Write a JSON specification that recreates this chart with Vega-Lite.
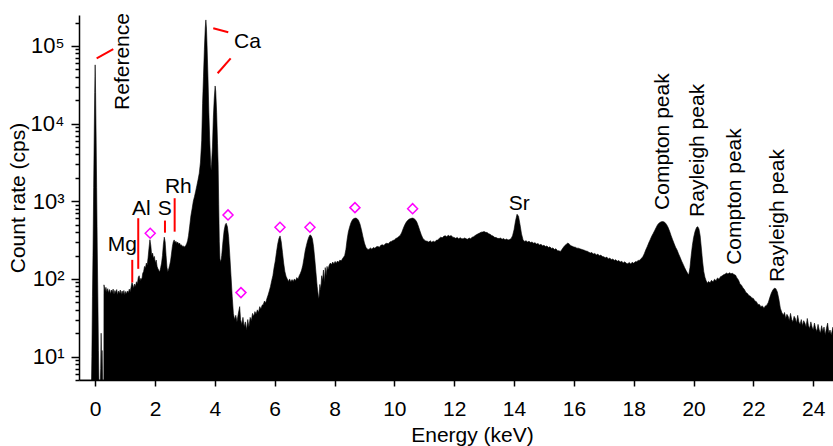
{
  "$schema": "https://vega.github.io/schema/vega-lite/v6.json",
  "width": 754,
  "height": 365,
  "autosize": {"type": "none"},
  "padding": {"left": 79, "top": 15, "right": 0, "bottom": 66},
  "background": "white",
  "config": {"font": "Liberation Sans", "view": {"stroke": null}},
  "datasets": {
    "spectrum": [
      {"e": -0.54, "c": 1}, {"e": -0.15, "c": 1}, {"e": -0.13, "c": 3}, {"e": -0.11, "c": 10}, {"e": -0.09, "c": 60}, {"e": -0.07, "c": 250}, {"e": -0.05, "c": 1500}, {"e": -0.03, "c": 8000}, {"e": -0.015, "c": 25000}, {"e": 0, "c": 57000}, {"e": 0.015, "c": 25000}, {"e": 0.03, "c": 8000}, {"e": 0.05, "c": 1500}, {"e": 0.07, "c": 250}, {"e": 0.09, "c": 60}, {"e": 0.11, "c": 12}, {"e": 0.13, "c": 4}, {"e": 0.16, "c": 3}, {"e": 0.185, "c": 7}, {"e": 0.2, "c": 20}, {"e": 0.215, "c": 7}, {"e": 0.23, "c": 12}, {"e": 0.25, "c": 5}, {"e": 0.27, "c": 3}, {"e": 0.29, "c": 3},
      {"e": 0.295, "c": 84}, {"e": 0.33, "c": 70}, {"e": 0.36, "c": 78}, {"e": 0.39, "c": 68}, {"e": 0.42, "c": 75}, {"e": 0.45, "c": 66}, {"e": 0.48, "c": 73}, {"e": 0.51, "c": 64}, {"e": 0.54, "c": 72}, {"e": 0.57, "c": 67}, {"e": 0.6, "c": 74}, {"e": 0.63, "c": 63}, {"e": 0.66, "c": 71}, {"e": 0.69, "c": 66}, {"e": 0.72, "c": 73}, {"e": 0.75, "c": 62}, {"e": 0.78, "c": 70}, {"e": 0.81, "c": 65}, {"e": 0.84, "c": 72}, {"e": 0.87, "c": 63}, {"e": 0.9, "c": 70}, {"e": 0.93, "c": 64}, {"e": 0.96, "c": 71}, {"e": 0.99, "c": 62}, {"e": 1.02, "c": 69}, {"e": 1.05, "c": 64}, {"e": 1.08, "c": 70}, {"e": 1.11, "c": 66}, {"e": 1.14, "c": 74}, {"e": 1.17, "c": 68}, {"e": 1.2, "c": 78}, {"e": 1.23, "c": 90}, {"e": 1.26, "c": 84}, {"e": 1.29, "c": 76}, {"e": 1.32, "c": 86}, {"e": 1.35, "c": 80}, {"e": 1.38, "c": 92}, {"e": 1.41, "c": 86}, {"e": 1.44, "c": 104}, {"e": 1.47, "c": 110}, {"e": 1.5, "c": 95}, {"e": 1.53, "c": 102}, {"e": 1.56, "c": 98}, {"e": 1.59, "c": 118}, {"e": 1.62, "c": 125}, {"e": 1.65, "c": 145}, {"e": 1.68, "c": 138}, {"e": 1.71, "c": 160}, {"e": 1.74, "c": 150}, {"e": 1.77, "c": 190}, {"e": 1.8, "c": 250}, {"e": 1.83, "c": 320}, {"e": 1.86, "c": 270}, {"e": 1.89, "c": 200}, {"e": 1.92, "c": 215}, {"e": 1.95, "c": 185}, {"e": 1.98, "c": 195}, {"e": 2.01, "c": 160}, {"e": 2.04, "c": 175}, {"e": 2.07, "c": 145}, {"e": 2.1, "c": 135}, {"e": 2.13, "c": 128}, {"e": 2.16, "c": 124}, {"e": 2.19, "c": 140}, {"e": 2.22, "c": 160}, {"e": 2.25, "c": 200}, {"e": 2.28, "c": 280}, {"e": 2.31, "c": 345}, {"e": 2.34, "c": 300}, {"e": 2.37, "c": 200}, {"e": 2.4, "c": 140}, {"e": 2.43, "c": 124}, {"e": 2.46, "c": 135}, {"e": 2.49, "c": 150}, {"e": 2.52, "c": 170}, {"e": 2.55, "c": 210}, {"e": 2.58, "c": 260}, {"e": 2.61, "c": 300}, {"e": 2.64, "c": 318}, {"e": 2.67, "c": 295}, {"e": 2.7, "c": 305}, {"e": 2.73, "c": 285}, {"e": 2.76, "c": 298}, {"e": 2.79, "c": 280}, {"e": 2.82, "c": 290}, {"e": 2.85, "c": 272}, {"e": 2.88, "c": 275}, {"e": 2.91, "c": 262}, {"e": 2.94, "c": 268}, {"e": 2.97, "c": 256}, {"e": 3.0, "c": 262}, {"e": 3.03, "c": 270}, {"e": 3.06, "c": 285}, {"e": 3.09, "c": 310}, {"e": 3.12, "c": 360}, {"e": 3.16, "c": 480}, {"e": 3.2, "c": 650}, {"e": 3.24, "c": 800}, {"e": 3.28, "c": 1000}, {"e": 3.32, "c": 1150}, {"e": 3.36, "c": 1350}, {"e": 3.4, "c": 1600}, {"e": 3.44, "c": 1900}, {"e": 3.48, "c": 2300}, {"e": 3.52, "c": 3200}, {"e": 3.56, "c": 6000}, {"e": 3.59, "c": 18000}, {"e": 3.62, "c": 40000}, {"e": 3.65, "c": 90000}, {"e": 3.68, "c": 170000}, {"e": 3.7, "c": 216000}, {"e": 3.72, "c": 170000}, {"e": 3.74, "c": 100000}, {"e": 3.77, "c": 40000}, {"e": 3.8, "c": 14000}, {"e": 3.83, "c": 6000}, {"e": 3.86, "c": 3000}, {"e": 3.875, "c": 2500}, {"e": 3.89, "c": 3000}, {"e": 3.92, "c": 5000}, {"e": 3.95, "c": 12000}, {"e": 3.98, "c": 21000}, {"e": 4.01, "c": 30500}, {"e": 4.03, "c": 26000}, {"e": 4.06, "c": 14000}, {"e": 4.09, "c": 5500}, {"e": 4.11, "c": 3000}, {"e": 4.13, "c": 900}, {"e": 4.15, "c": 300}, {"e": 4.17, "c": 180}, {"e": 4.2, "c": 165}, {"e": 4.23, "c": 200}, {"e": 4.27, "c": 300}, {"e": 4.31, "c": 420}, {"e": 4.35, "c": 500}, {"e": 4.38, "c": 521}, {"e": 4.42, "c": 470}, {"e": 4.46, "c": 350}, {"e": 4.5, "c": 200}, {"e": 4.54, "c": 110}, {"e": 4.58, "c": 60}, {"e": 4.62, "c": 36}, {"e": 4.66, "c": 30}, {"e": 4.7, "c": 34}, {"e": 4.74, "c": 28}, {"e": 4.78, "c": 35}, {"e": 4.83, "c": 44}, {"e": 4.86, "c": 30}, {"e": 4.9, "c": 26}, {"e": 4.94, "c": 32}, {"e": 4.98, "c": 24}, {"e": 5.02, "c": 28}, {"e": 5.06, "c": 22}, {"e": 5.1, "c": 30}, {"e": 5.14, "c": 24}, {"e": 5.18, "c": 32}, {"e": 5.22, "c": 29}, {"e": 5.26, "c": 36}, {"e": 5.3, "c": 33}, {"e": 5.34, "c": 38}, {"e": 5.38, "c": 35}, {"e": 5.42, "c": 40}, {"e": 5.46, "c": 37}, {"e": 5.5, "c": 44}, {"e": 5.54, "c": 41}, {"e": 5.58, "c": 46}, {"e": 5.62, "c": 47}, {"e": 5.66, "c": 52}, {"e": 5.7, "c": 49}, {"e": 5.74, "c": 56}, {"e": 5.78, "c": 62}, {"e": 5.82, "c": 70}, {"e": 5.86, "c": 80}, {"e": 5.9, "c": 95}, {"e": 5.94, "c": 110}, {"e": 5.98, "c": 140}, {"e": 6.02, "c": 170}, {"e": 6.06, "c": 220}, {"e": 6.1, "c": 280}, {"e": 6.14, "c": 330}, {"e": 6.18, "c": 358}, {"e": 6.22, "c": 300}, {"e": 6.26, "c": 220}, {"e": 6.3, "c": 160}, {"e": 6.34, "c": 125}, {"e": 6.38, "c": 108}, {"e": 6.42, "c": 100}, {"e": 6.46, "c": 93}, {"e": 6.5, "c": 100}, {"e": 6.54, "c": 91}, {"e": 6.58, "c": 98}, {"e": 6.62, "c": 93}, {"e": 6.66, "c": 100}, {"e": 6.7, "c": 95}, {"e": 6.74, "c": 104}, {"e": 6.78, "c": 99}, {"e": 6.82, "c": 110}, {"e": 6.86, "c": 118}, {"e": 6.9, "c": 130}, {"e": 6.94, "c": 150}, {"e": 6.98, "c": 185}, {"e": 7.02, "c": 230}, {"e": 7.06, "c": 270}, {"e": 7.1, "c": 310}, {"e": 7.14, "c": 345}, {"e": 7.18, "c": 369}, {"e": 7.22, "c": 360}, {"e": 7.26, "c": 330}, {"e": 7.3, "c": 260}, {"e": 7.34, "c": 180}, {"e": 7.38, "c": 120}, {"e": 7.42, "c": 80}, {"e": 7.46, "c": 60}, {"e": 7.48, "c": 56}, {"e": 7.51, "c": 85}, {"e": 7.54, "c": 72}, {"e": 7.57, "c": 110}, {"e": 7.6, "c": 95}, {"e": 7.63, "c": 130}, {"e": 7.66, "c": 90}, {"e": 7.69, "c": 140}, {"e": 7.72, "c": 110}, {"e": 7.75, "c": 145}, {"e": 7.78, "c": 130}, {"e": 7.82, "c": 150}, {"e": 7.86, "c": 160}, {"e": 7.9, "c": 153}, {"e": 7.94, "c": 165}, {"e": 7.98, "c": 156}, {"e": 8.02, "c": 168}, {"e": 8.06, "c": 159}, {"e": 8.1, "c": 170}, {"e": 8.14, "c": 164}, {"e": 8.18, "c": 175}, {"e": 8.22, "c": 170}, {"e": 8.26, "c": 180}, {"e": 8.3, "c": 190}, {"e": 8.34, "c": 200}, {"e": 8.38, "c": 240}, {"e": 8.42, "c": 320}, {"e": 8.46, "c": 400}, {"e": 8.5, "c": 460}, {"e": 8.55, "c": 530}, {"e": 8.6, "c": 580}, {"e": 8.65, "c": 600}, {"e": 8.7, "c": 607}, {"e": 8.75, "c": 600}, {"e": 8.8, "c": 570}, {"e": 8.85, "c": 510}, {"e": 8.9, "c": 430}, {"e": 8.95, "c": 350}, {"e": 9.0, "c": 290}, {"e": 9.05, "c": 255}, {"e": 9.1, "c": 242}, {"e": 9.15, "c": 240}, {"e": 9.2, "c": 250}, {"e": 9.25, "c": 242}, {"e": 9.3, "c": 254}, {"e": 9.35, "c": 248}, {"e": 9.4, "c": 260}, {"e": 9.45, "c": 262}, {"e": 9.5, "c": 256}, {"e": 9.55, "c": 272}, {"e": 9.6, "c": 275}, {"e": 9.65, "c": 270}, {"e": 9.7, "c": 284}, {"e": 9.75, "c": 288}, {"e": 9.8, "c": 283}, {"e": 9.85, "c": 300}, {"e": 9.9, "c": 304}, {"e": 9.95, "c": 312}, {"e": 10.0, "c": 318}, {"e": 10.05, "c": 332}, {"e": 10.1, "c": 338}, {"e": 10.15, "c": 352}, {"e": 10.2, "c": 365}, {"e": 10.25, "c": 400}, {"e": 10.3, "c": 450}, {"e": 10.35, "c": 500}, {"e": 10.4, "c": 540}, {"e": 10.45, "c": 570}, {"e": 10.5, "c": 590}, {"e": 10.55, "c": 600}, {"e": 10.6, "c": 607}, {"e": 10.65, "c": 600}, {"e": 10.7, "c": 580}, {"e": 10.75, "c": 540}, {"e": 10.8, "c": 480}, {"e": 10.85, "c": 420}, {"e": 10.9, "c": 370}, {"e": 10.95, "c": 335}, {"e": 11.0, "c": 318}, {"e": 11.05, "c": 308}, {"e": 11.1, "c": 306}, {"e": 11.15, "c": 298}, {"e": 11.2, "c": 310}, {"e": 11.25, "c": 297}, {"e": 11.3, "c": 306}, {"e": 11.35, "c": 300}, {"e": 11.4, "c": 314}, {"e": 11.45, "c": 318}, {"e": 11.5, "c": 332}, {"e": 11.55, "c": 345}, {"e": 11.6, "c": 338}, {"e": 11.65, "c": 354}, {"e": 11.7, "c": 360}, {"e": 11.75, "c": 348}, {"e": 11.8, "c": 366}, {"e": 11.85, "c": 354}, {"e": 11.9, "c": 362}, {"e": 11.95, "c": 345}, {"e": 12.0, "c": 342}, {"e": 12.05, "c": 333}, {"e": 12.1, "c": 342}, {"e": 12.15, "c": 328}, {"e": 12.2, "c": 340}, {"e": 12.25, "c": 330}, {"e": 12.3, "c": 328}, {"e": 12.35, "c": 337}, {"e": 12.4, "c": 328}, {"e": 12.45, "c": 325}, {"e": 12.5, "c": 336}, {"e": 12.55, "c": 330}, {"e": 12.6, "c": 344}, {"e": 12.65, "c": 350}, {"e": 12.7, "c": 362}, {"e": 12.75, "c": 372}, {"e": 12.8, "c": 382}, {"e": 12.85, "c": 390}, {"e": 12.9, "c": 400}, {"e": 12.95, "c": 402}, {"e": 13.0, "c": 407}, {"e": 13.05, "c": 398}, {"e": 13.1, "c": 396}, {"e": 13.15, "c": 383}, {"e": 13.2, "c": 376}, {"e": 13.25, "c": 363}, {"e": 13.3, "c": 356}, {"e": 13.35, "c": 343}, {"e": 13.4, "c": 341}, {"e": 13.45, "c": 333}, {"e": 13.5, "c": 331}, {"e": 13.55, "c": 336}, {"e": 13.6, "c": 324}, {"e": 13.65, "c": 331}, {"e": 13.7, "c": 319}, {"e": 13.75, "c": 326}, {"e": 13.8, "c": 317}, {"e": 13.85, "c": 321}, {"e": 13.9, "c": 330}, {"e": 13.95, "c": 360}, {"e": 14.0, "c": 430}, {"e": 14.05, "c": 560}, {"e": 14.1, "c": 680}, {"e": 14.15, "c": 640}, {"e": 14.2, "c": 500}, {"e": 14.25, "c": 380}, {"e": 14.3, "c": 320}, {"e": 14.35, "c": 304}, {"e": 14.4, "c": 311}, {"e": 14.45, "c": 299}, {"e": 14.5, "c": 306}, {"e": 14.55, "c": 294}, {"e": 14.6, "c": 299}, {"e": 14.65, "c": 289}, {"e": 14.7, "c": 293}, {"e": 14.75, "c": 281}, {"e": 14.8, "c": 286}, {"e": 14.85, "c": 274}, {"e": 14.9, "c": 279}, {"e": 14.95, "c": 267}, {"e": 15.0, "c": 271}, {"e": 15.05, "c": 261}, {"e": 15.1, "c": 266}, {"e": 15.15, "c": 254}, {"e": 15.2, "c": 259}, {"e": 15.25, "c": 247}, {"e": 15.3, "c": 251}, {"e": 15.35, "c": 239}, {"e": 15.4, "c": 245}, {"e": 15.45, "c": 231}, {"e": 15.5, "c": 230}, {"e": 15.55, "c": 226}, {"e": 15.6, "c": 240}, {"e": 15.65, "c": 255}, {"e": 15.7, "c": 270}, {"e": 15.75, "c": 280}, {"e": 15.8, "c": 290}, {"e": 15.85, "c": 280}, {"e": 15.9, "c": 268}, {"e": 15.95, "c": 263}, {"e": 16.0, "c": 257}, {"e": 16.05, "c": 256}, {"e": 16.1, "c": 249}, {"e": 16.15, "c": 249}, {"e": 16.2, "c": 244}, {"e": 16.25, "c": 241}, {"e": 16.3, "c": 237}, {"e": 16.35, "c": 234}, {"e": 16.4, "c": 229}, {"e": 16.45, "c": 227}, {"e": 16.5, "c": 221}, {"e": 16.55, "c": 216}, {"e": 16.6, "c": 219}, {"e": 16.65, "c": 209}, {"e": 16.7, "c": 213}, {"e": 16.75, "c": 204}, {"e": 16.8, "c": 209}, {"e": 16.85, "c": 199}, {"e": 16.9, "c": 203}, {"e": 16.95, "c": 194}, {"e": 17.0, "c": 193}, {"e": 17.05, "c": 187}, {"e": 17.1, "c": 191}, {"e": 17.15, "c": 181}, {"e": 17.2, "c": 186}, {"e": 17.25, "c": 177}, {"e": 17.3, "c": 181}, {"e": 17.35, "c": 173}, {"e": 17.4, "c": 177}, {"e": 17.45, "c": 169}, {"e": 17.5, "c": 173}, {"e": 17.55, "c": 165}, {"e": 17.6, "c": 169}, {"e": 17.65, "c": 161}, {"e": 17.7, "c": 166}, {"e": 17.75, "c": 159}, {"e": 17.8, "c": 157}, {"e": 17.85, "c": 163}, {"e": 17.9, "c": 156}, {"e": 17.95, "c": 164}, {"e": 18.0, "c": 159}, {"e": 18.05, "c": 167}, {"e": 18.1, "c": 167}, {"e": 18.15, "c": 173}, {"e": 18.2, "c": 174}, {"e": 18.25, "c": 183}, {"e": 18.3, "c": 192}, {"e": 18.35, "c": 210}, {"e": 18.4, "c": 235}, {"e": 18.45, "c": 260}, {"e": 18.5, "c": 290}, {"e": 18.55, "c": 320}, {"e": 18.6, "c": 355}, {"e": 18.65, "c": 385}, {"e": 18.7, "c": 420}, {"e": 18.75, "c": 460}, {"e": 18.8, "c": 500}, {"e": 18.85, "c": 525}, {"e": 18.9, "c": 540}, {"e": 18.95, "c": 547}, {"e": 19.0, "c": 545}, {"e": 19.05, "c": 530}, {"e": 19.1, "c": 500}, {"e": 19.15, "c": 460}, {"e": 19.2, "c": 410}, {"e": 19.25, "c": 360}, {"e": 19.3, "c": 320}, {"e": 19.35, "c": 285}, {"e": 19.4, "c": 255}, {"e": 19.45, "c": 235}, {"e": 19.5, "c": 210}, {"e": 19.55, "c": 190}, {"e": 19.6, "c": 170}, {"e": 19.65, "c": 155}, {"e": 19.7, "c": 140}, {"e": 19.75, "c": 128}, {"e": 19.8, "c": 118}, {"e": 19.84, "c": 113}, {"e": 19.88, "c": 140}, {"e": 19.92, "c": 200}, {"e": 19.96, "c": 270}, {"e": 20.0, "c": 340}, {"e": 20.05, "c": 410}, {"e": 20.1, "c": 460}, {"e": 20.14, "c": 471}, {"e": 20.18, "c": 440}, {"e": 20.22, "c": 360}, {"e": 20.26, "c": 250}, {"e": 20.3, "c": 170}, {"e": 20.34, "c": 125}, {"e": 20.38, "c": 105}, {"e": 20.42, "c": 95}, {"e": 20.46, "c": 88}, {"e": 20.5, "c": 93}, {"e": 20.55, "c": 89}, {"e": 20.6, "c": 96}, {"e": 20.65, "c": 91}, {"e": 20.7, "c": 99}, {"e": 20.75, "c": 95}, {"e": 20.8, "c": 103}, {"e": 20.85, "c": 99}, {"e": 20.9, "c": 107}, {"e": 20.95, "c": 109}, {"e": 21.0, "c": 113}, {"e": 21.05, "c": 115}, {"e": 21.1, "c": 119}, {"e": 21.15, "c": 116}, {"e": 21.2, "c": 120}, {"e": 21.25, "c": 117}, {"e": 21.3, "c": 118}, {"e": 21.35, "c": 114}, {"e": 21.4, "c": 112}, {"e": 21.45, "c": 103}, {"e": 21.5, "c": 97}, {"e": 21.55, "c": 87}, {"e": 21.6, "c": 83}, {"e": 21.65, "c": 77}, {"e": 21.7, "c": 73}, {"e": 21.75, "c": 67}, {"e": 21.8, "c": 65}, {"e": 21.85, "c": 61}, {"e": 21.9, "c": 60}, {"e": 21.95, "c": 57}, {"e": 22.0, "c": 56}, {"e": 22.05, "c": 52}, {"e": 22.1, "c": 51}, {"e": 22.15, "c": 47}, {"e": 22.2, "c": 47}, {"e": 22.25, "c": 44}, {"e": 22.3, "c": 45}, {"e": 22.35, "c": 42}, {"e": 22.4, "c": 45}, {"e": 22.45, "c": 46}, {"e": 22.5, "c": 50}, {"e": 22.55, "c": 58}, {"e": 22.6, "c": 66}, {"e": 22.65, "c": 72}, {"e": 22.7, "c": 76}, {"e": 22.75, "c": 75}, {"e": 22.8, "c": 68}, {"e": 22.85, "c": 55}, {"e": 22.9, "c": 42}, {"e": 22.95, "c": 37},
      {"e": 23.0, "c": 34}, {"e": 23.04, "c": 37}, {"e": 23.08, "c": 31}, {"e": 23.12, "c": 35}, {"e": 23.16, "c": 33}, {"e": 23.2, "c": 29}, {"e": 23.24, "c": 36}, {"e": 23.28, "c": 30}, {"e": 23.32, "c": 28}, {"e": 23.36, "c": 33}, {"e": 23.4, "c": 31}, {"e": 23.44, "c": 27}, {"e": 23.48, "c": 34}, {"e": 23.52, "c": 28}, {"e": 23.56, "c": 26}, {"e": 23.6, "c": 30}, {"e": 23.64, "c": 25}, {"e": 23.68, "c": 29}, {"e": 23.72, "c": 27}, {"e": 23.76, "c": 24}, {"e": 23.8, "c": 31}, {"e": 23.84, "c": 25}, {"e": 23.88, "c": 23}, {"e": 23.92, "c": 28}, {"e": 23.96, "c": 24}, {"e": 24.0, "c": 22}, {"e": 24.04, "c": 27}, {"e": 24.08, "c": 23}, {"e": 24.12, "c": 21}, {"e": 24.16, "c": 26}, {"e": 24.2, "c": 22}, {"e": 24.24, "c": 20}, {"e": 24.28, "c": 25}, {"e": 24.32, "c": 21}, {"e": 24.36, "c": 24}, {"e": 24.4, "c": 19}, {"e": 24.44, "c": 23}, {"e": 24.48, "c": 27}, {"e": 24.52, "c": 20}, {"e": 24.56, "c": 22}, {"e": 24.6, "c": 19}, {"e": 24.66, "c": 24}
    ],
    "lines": [
      {"e": 0.05, "c": 69300, "e2": 0.605, "c2": 90600},
      {"e": 3.947, "c": 169000, "e2": 4.449, "c2": 150000},
      {"e": 4.094, "c": 44500, "e2": 4.529, "c2": 69300},
      {"e": 1.24, "c": 90, "e2": 1.24, "c2": 176},
      {"e": 1.44, "c": 135, "e2": 1.44, "c2": 605},
      {"e": 2.333, "c": 394, "e2": 2.333, "c2": 564},
      {"e": 2.657, "c": 406, "e2": 2.657, "c2": 1094}
    ],
    "diamonds": [
      {"e": 1.84, "c": 388}, {"e": 4.44, "c": 667}, {"e": 4.873, "c": 66.7}, {"e": 6.177, "c": 463}, {"e": 7.179, "c": 463}, {"e": 8.683, "c": 828}, {"e": 10.61, "c": 803}
    ],
    "labels": [
      {"e": 5.09, "c": 94200, "label": "Ca"},
      {"e": 1.54, "c": 667, "label": "Al"},
      {"e": 2.33, "c": 667, "label": "S"},
      {"e": 2.78, "c": 1291, "label": "Rh"},
      {"e": 0.906, "c": 229, "label": "Mg"},
      {"e": 14.17, "c": 774, "label": "Sr"}
    ],
    "vlabels": [
      {"e": 0.94, "c": 15000, "label": "Reference"},
      {"e": 18.98, "c": 774, "label": "Compton peak"},
      {"e": 20.16, "c": 628, "label": "Rayleigh peak"},
      {"e": 21.38, "c": 152, "label": "Compton peak"},
      {"e": 22.82, "c": 91, "label": "Rayleigh peak"}
    ]
  },
  "layer": [
    {
      "data": {"name": "spectrum"},
      "mark": {"type": "area", "fill": "black", "fillOpacity": 1, "clip": true, "interpolate": "linear", "stroke": "black", "strokeWidth": 0.6},
      "encoding": {
        "x": {
          "field": "e", "type": "quantitative",
          "scale": {"domain": [-0.54, 24.66], "nice": false, "zero": false},
          "axis": {
            "title": "Energy (keV)",
            "values": [0,1,2,3,4,5,6,7,8,9,10,11,12,13,14,15,16,17,18,19,20,21,22,23,24],
            "labelExpr": "datum.value % 2 == 0 ? datum.label : ''",
            "tickSize": {"condition": {"test": "datum.value % 2 == 0", "value": 6}, "value": 4},
            "grid": false, "labelFontSize": 21, "titleFontSize": 21, "titleFontWeight": "normal",
            "labelColor": "black", "titleColor": "black", "domainColor": "black", "tickColor": "black",
            "domainWidth": 1.5, "tickWidth": 1.5, "labelPadding": 12, "titlePadding": 5, "titleX": 393, "labelOverlap": false
          }
        },
        "y": {
          "field": "c", "type": "quantitative",
          "scale": {"type": "log", "domain": [5, 250000], "nice": false},
          "axis": {
            "title": "Count rate (cps)",
            "values": [5,6,7,8,9,10,20,30,40,50,60,70,80,90,100,200,300,400,500,600,700,800,900,1000,2000,3000,4000,5000,6000,7000,8000,9000,10000,20000,30000,40000,50000,60000,70000,80000,90000,100000,200000],
            "labelExpr": "datum.value == 10 ? '10¹' : datum.value == 100 ? '10²' : datum.value == 1000 ? '10³' : datum.value == 10000 ? '10⁴' : datum.value == 100000 ? '10⁵' : ''",
            "tickSize": {"condition": {"test": "datum.value == 10 || datum.value == 100 || datum.value == 1000 || datum.value == 10000 || datum.value == 100000", "value": 8}, "value": 4},
            "grid": false, "labelFontSize": 22, "titleFontSize": 21, "titleFontWeight": "normal",
            "labelColor": "black", "titleColor": "black", "domainColor": "black", "tickColor": "black",
            "domainWidth": 1.5, "tickWidth": 1.5, "labelPadding": 7, "titlePadding": 2, "labelOverlap": false
          }
        },
        "y2": {"datum": 5}
      }
    },
    {
      "data": {"name": "lines"},
      "mark": {"type": "rule", "color": "#ff0000", "strokeWidth": 2},
      "encoding": {
        "x": {"field": "e", "type": "quantitative"},
        "x2": {"field": "e2"},
        "y": {"field": "c", "type": "quantitative"},
        "y2": {"field": "c2"}
      }
    },
    {
      "data": {"name": "diamonds"},
      "mark": {"type": "point", "shape": "diamond", "filled": false, "stroke": "#ff00ff", "strokeWidth": 1.5, "size": 100, "opacity": 1},
      "encoding": {
        "x": {"field": "e", "type": "quantitative"},
        "y": {"field": "c", "type": "quantitative"}
      }
    },
    {
      "data": {"name": "labels"},
      "mark": {"type": "text", "fontSize": 21, "align": "center", "baseline": "alphabetic", "color": "black"},
      "encoding": {
        "x": {"field": "e", "type": "quantitative"},
        "y": {"field": "c", "type": "quantitative"},
        "text": {"field": "label"}
      }
    },
    {
      "data": {"name": "vlabels"},
      "mark": {"type": "text", "fontSize": 21, "align": "left", "baseline": "middle", "angle": 270, "color": "black"},
      "encoding": {
        "x": {"field": "e", "type": "quantitative"},
        "y": {"field": "c", "type": "quantitative"},
        "text": {"field": "label"}
      }
    }
  ]
}
